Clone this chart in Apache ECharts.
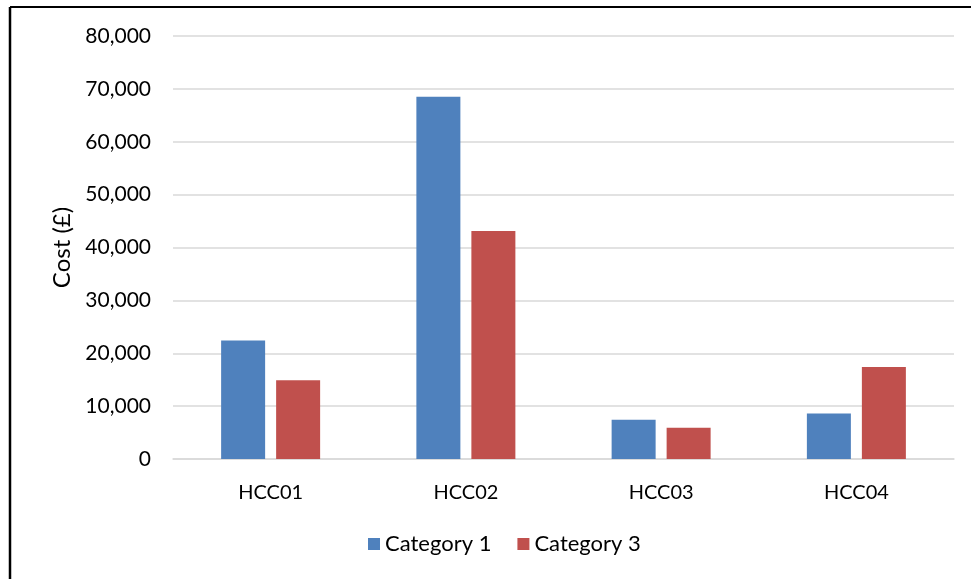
<!DOCTYPE html>
<html>
<head>
<meta charset="utf-8">
<script src="https://cdn.jsdelivr.net/npm/echarts@6/dist/echarts.min.js"></script>
<style>
  html, body { margin: 0; padding: 0; background: #ffffff; }
  #chart { width: 971px; height: 579px; }
</style>
</head>
<body>
<div id="chart"></div>
<script>
// Sites along the x axis
const categories = ['HCC01', 'HCC02', 'HCC03', 'HCC04'];
// Cost per site (£)
const category1 = [22400, 68500, 7400, 8600];
const category3 = [14900, 43100, 5900, 17400];
// Value axis range
const yMin = 0;
const yMax = 80000;
const yStep = 10000;

const FONT = 'Lato, "Open Sans", sans-serif';

const chart = echarts.init(document.getElementById('chart'), null, { renderer: 'canvas' });

chart.setOption({
  backgroundColor: '#ffffff',
  animation: false,
  graphic: [
    { type: 'line', shape: { x1: 10, y1: 7, x2: 971, y2: 7 }, style: { stroke: '#000', lineWidth: 2 } },
    { type: 'line', shape: { x1: 10, y1: 7, x2: 10, y2: 579 }, style: { stroke: '#000', lineWidth: 2.5 } }
  ],
  grid: { left: 173, right: 17, top: 36, bottom: 120, containLabel: false },
  legend: {
    data: ['Category 1', 'Category 3'],
    bottom: 19,
    left: 363,
    itemWidth: 12,
    itemHeight: 12,
    itemGap: 26,
    icon: 'rect',
    textStyle: { fontFamily: FONT, fontSize: 22, color: '#000' }
  },
  xAxis: {
    type: 'category',
    data: categories,
    axisLine: { show: true, lineStyle: { color: '#d9d9d9', width: 1.5 } },
    axisTick: { show: false },
    axisLabel: { fontFamily: FONT, fontSize: 20, color: '#000', margin: 24 }
  },
  yAxis: {
    type: 'value',
    min: yMin,
    max: yMax,
    interval: yStep,
    name: 'Cost (£)',
    nameLocation: 'middle',
    nameGap: 98,
    nameRotate: 90,
    nameTextStyle: { fontFamily: FONT, fontSize: 24, color: '#000' },
    axisLine: { show: false },
    axisTick: { show: false },
    splitLine: { lineStyle: { color: '#d9d9d9', width: 1.5 } },
    axisLabel: {
      fontFamily: FONT, fontSize: 21, color: '#000', margin: 22,
      formatter: v => v.toLocaleString('en-GB')
    }
  },
  series: [
    {
      name: 'Category 1', type: 'bar', data: category1,
      barWidth: 44, barGap: '25%',
      itemStyle: { color: '#4f81bd' }
    },
    {
      name: 'Category 3', type: 'bar', data: category3,
      barWidth: 44, barGap: '25%',
      itemStyle: { color: '#c0504d' }
    }
  ]
});
</script>
</body>
</html>
